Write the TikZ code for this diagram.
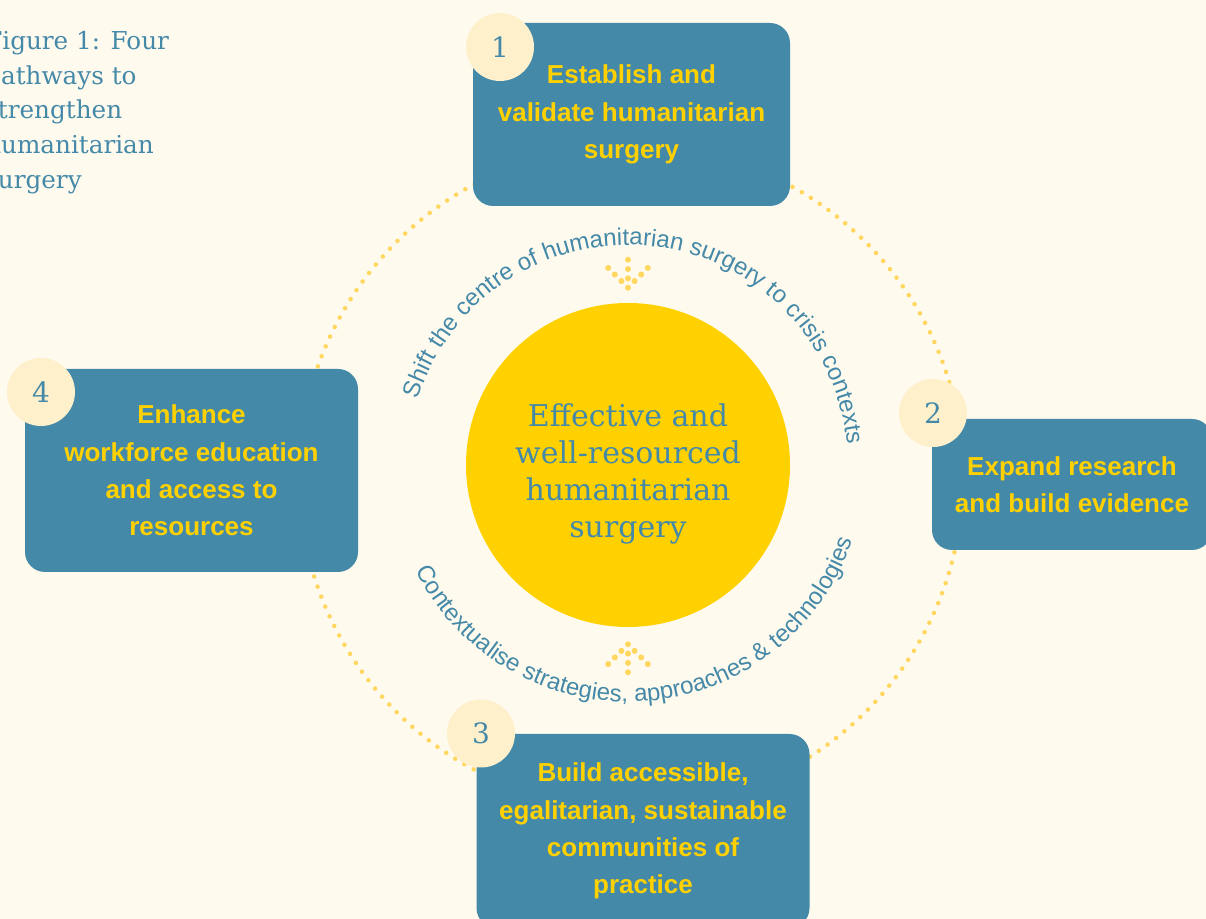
\documentclass[tikz,border=0pt]{standalone}
\usepackage{fontspec}
\setmainfont{DejaVu Serif}
\setsansfont{Liberation Sans}
\usetikzlibrary{positioning, decorations.text, calc}

\definecolor{cream}{HTML}{FFFAEE}
\definecolor{pathblue}{HTML}{4589A8}
\definecolor{sungold}{HTML}{FFD100}
\definecolor{dotgold}{HTML}{FFD75E}
\definecolor{badgefill}{HTML}{FFF0CC}

\begin{document}
\begin{tikzpicture}[
    x=0.75pt, y=0.75pt,
    pathway/.style={fill=pathblue, rounded corners=15pt, inner sep=0pt, align=center, text=sungold,
      font=\sffamily\bfseries\fontsize{19.5}{28}\selectfont,
      execute at begin node={\rule{0pt}{1.05em}}},
    badge/.style={circle, fill=badgefill, minimum size=51pt, inner sep=0pt, text=pathblue,
      font=\fontsize{21}{21}\selectfont},
    ring/.style={draw=dotgold, line width=3.4pt, line cap=round, dash pattern=on 0pt off 8.02pt},
    pointer/.style={draw=dotgold, line width=4.5pt, line cap=round, dash pattern=on 0pt off 7pt},
    arclabel/.style={decorate, decoration={text along path, text align=center, text color=pathblue,
      text={|\sffamily\fontsize{18}{18}\selectfont|#1}}}
  ]
  \useasboundingbox (0,0) rectangle (1206,919);
  \clip (0,0) rectangle (1206,919);
  \fill[cream] (0,0) rectangle (1206,919);

  \node[anchor=north west, inner sep=0pt, align=left, text=pathblue,
    font=\fontsize{18.5}{26}\selectfont] (title) at (-15,888)
    {Figure 1: Four\\pathways to\\strengthen\\humanitarian\\surgery};

  % dotted ring behind the four pathways
  \coordinate (ringc) at (631,442);
  \draw[ring] (ringc) circle[radius=332];

  \node[circle, fill=sungold, minimum size=243pt, inner sep=0pt] (core) at (628,454) {};
  \node[align=center, text=pathblue, font=\fontsize{22.5}{27.75}\selectfont] (goal) at (628,445)
    {Effective and\\well-resourced\\humanitarian\\surgery};

  \path[arclabel={Shift the centre of humanitarian surgery to crisis contexts}]
    ($(core.center)+(174:220)$) arc[start angle=174, end angle=-6, radius=220];
  \path[arclabel={Contextualise strategies, approaches {\&} technologies}]
    ($(core.center)+(184:237)$) arc[start angle=184, end angle=364, radius=237];

  \coordinate (inTip) at ($(core.north)+(0,15)$);
  \coordinate (inTail) at ($(inTip)+(0,30)$);
  \coordinate (inL) at ($(inTip)+(-20,20)$);
  \coordinate (inR) at ($(inTip)+(20,20)$);
  \draw[pointer] (inTip) -- (inTail) (inTip) -- (inL) (inTip) -- (inR);

  \coordinate (upTip) at ($(core.south)+(0,-17)$);
  \coordinate (upTail) at ($(upTip)+(0,-30)$);
  \coordinate (upL) at ($(upTip)+(-20,-20)$);
  \coordinate (upR) at ($(upTip)+(20,-20)$);
  \draw[pointer] (upTip) -- (upTail) (upTip) -- (upL) (upTip) -- (upR);

  \node[pathway, minimum width=237.75pt, minimum height=137.25pt] (p1) at (631.5,804.5)
    {Establish and\\validate humanitarian\\surgery};
  \node[pathway, minimum width=210pt, minimum height=98.25pt] (p2) at (1072,434.5)
    {Expand research\\and build evidence};
  \node[pathway, minimum width=249.75pt, minimum height=145.5pt] (p3) at (643,88)
    {Build accessible,\\egalitarian, sustainable\\communities of\\practice};
  \node[pathway, minimum width=249.75pt, minimum height=152.25pt] (p4) at (191.5,448.5)
    {Enhance\\workforce education\\and access to\\resources};

  \node[badge] (n1) at (500,872) {1};
  \node[badge] (n2) at (933,506) {2};
  \node[badge] (n3) at (481,185.5) {3};
  \node[badge] (n4) at (41,527) {4};
\end{tikzpicture}
\end{document}
